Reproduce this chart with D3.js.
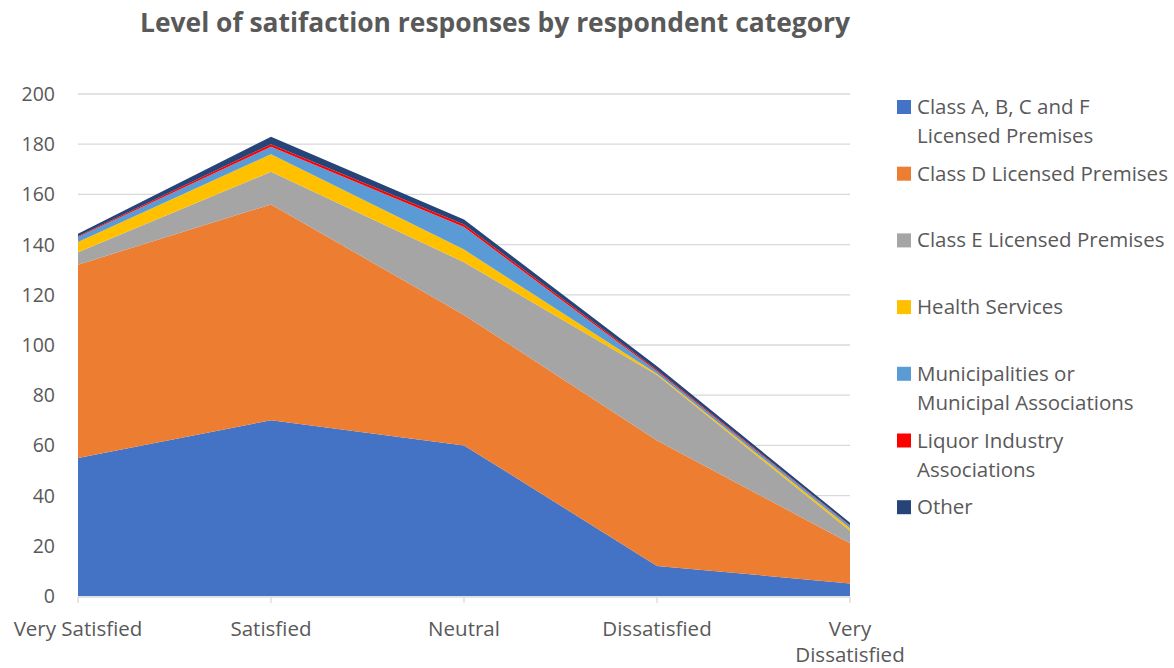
<!DOCTYPE html>
<html>
<head>
<meta charset="utf-8">
<script src="https://cdn.jsdelivr.net/npm/d3@7"></script>
<style>
  body { margin: 0; background: #fff; }
  text { font-family: "Open Sans", "Liberation Sans", sans-serif; fill: #595959; }
</style>
</head>
<body>
<svg width="1174" height="668"></svg>
<script>
// The svg
var svg = d3.select("svg"),
    width = +svg.attr("width"),
    height = +svg.attr("height");

// Data
var categories = ["Very Satisfied", "Satisfied", "Neutral", "Dissatisfied", "Very Dissatisfied"];
var seriesNames = ["Class A, B, C and F Licensed Premises", "Class D Licensed Premises",
    "Class E Licensed Premises", "Health Services", "Municipalities or Municipal Associations",
    "Liquor Industry Associations", "Other"];
var classABCF = [55, 70, 60, 12, 5];
var classD = [77, 86, 52, 50, 16];
var classE = [5, 13, 21, 26, 5];
var health = [4, 7, 5, 0.5, 1];
var municipal = [2, 3, 9, 1, 1];
var liquor = [0.3, 1, 1, 0.5, 0.2];
var other = [1, 3, 2, 1.5, 1];
var yTicks = [0, 20, 40, 60, 80, 100, 120, 140, 160, 180, 200];
var colors = ["#4472C4", "#ED7D31", "#A5A5A5", "#FFC000", "#5B9BD5", "#FF0000", "#264478"];
var legendLines = [["Class A, B, C and F", "Licensed Premises"], ["Class D Licensed Premises"],
    ["Class E Licensed Premises"], ["Health Services"], ["Municipalities or", "Municipal Associations"],
    ["Liquor Industry", "Associations"], ["Other"]];

var allSeries = [classABCF, classD, classE, health, municipal, liquor, other];
var rows = categories.map(function (c, i) {
    var r = { cat: c };
    seriesNames.forEach(function (s, j) { r[s] = allSeries[j][i]; });
    return r;
});

// Scales
var x = d3.scalePoint().domain(categories).range([78, 850]);
var y = d3.scaleLinear().domain([0, 200]).range([596, 94]);

// Title
svg.append("text")
    .attr("x", 495)
    .attr("y", 32)
    .attr("text-anchor", "middle")
    .style("font-size", "26.4px")
    .style("font-weight", "bold")
    .text("Level of satifaction responses by respondent category");

// gridlines
svg.append("g")
    .selectAll("line")
    .data(yTicks.slice(1))
    .enter()
    .append("line")
    .attr("x1", 78).attr("x2", 850)
    .attr("y1", function (d) { return y(d); })
    .attr("y2", function (d) { return y(d); })
    .attr("stroke", "#D9D9D9")
    .attr("stroke-width", 1.3);

// stacked areas
var stack = d3.stack().keys(seriesNames);
var area = d3.area()
    .x(function (d) { return x(d.data.cat); })
    .y0(function (d) { return y(d[0]); })
    .y1(function (d) { return y(d[1]); });

svg.append("g")
    .selectAll("path")
    .data(stack(rows))
    .enter()
    .append("path")
    .attr("d", area)
    .attr("fill", function (d, i) { return colors[i]; });

// y axis labels
svg.append("g")
    .selectAll("text")
    .data(yTicks)
    .enter()
    .append("text")
    .attr("x", 55)
    .attr("y", function (d) { return y(d) + 7; })
    .attr("text-anchor", "end")
    .style("font-size", "19.5px")
    .text(function (d) { return d; });

// x axis line and ticks
var xAxis = svg.append("g");
xAxis.append("line")
    .attr("x1", 78).attr("x2", 850)
    .attr("y1", 597).attr("y2", 597)
    .attr("stroke", "#D9D9D9").attr("stroke-width", 1.3);
xAxis.selectAll(".tick")
    .data(categories)
    .enter()
    .append("line")
    .attr("x1", function (d) { return x(d); })
    .attr("x2", function (d) { return x(d); })
    .attr("y1", 597).attr("y2", 603)
    .attr("stroke", "#D9D9D9").attr("stroke-width", 1.3);

var xLabelLines = [["Very Satisfied"], ["Satisfied"], ["Neutral"], ["Dissatisfied"], ["Very", "Dissatisfied"]];
xAxis.selectAll(".xlab")
    .data(categories)
    .enter()
    .append("text")
    .attr("text-anchor", "middle")
    .style("font-size", "20.5px")
    .each(function (d, i) {
        var t = d3.select(this);
        xLabelLines[i].forEach(function (ln, k) {
            t.append("tspan")
                .attr("x", x(d))
                .attr("y", 636 + k * 26)
                .text(ln);
        });
    });

// legend
var legend = svg.append("g");
legendLines.forEach(function (lines, i) {
    var yy = 107 + i * 66.7;
    legend.append("rect")
        .attr("x", 897).attr("y", yy - 7)
        .attr("width", 14).attr("height", 14)
        .attr("fill", colors[i]);
    lines.forEach(function (ln, k) {
        legend.append("text")
            .attr("x", 917)
            .attr("y", yy + 7 + k * 29)
            .style("font-size", "20.5px")
            .text(ln);
    });
});
</script>
</body>
</html>
